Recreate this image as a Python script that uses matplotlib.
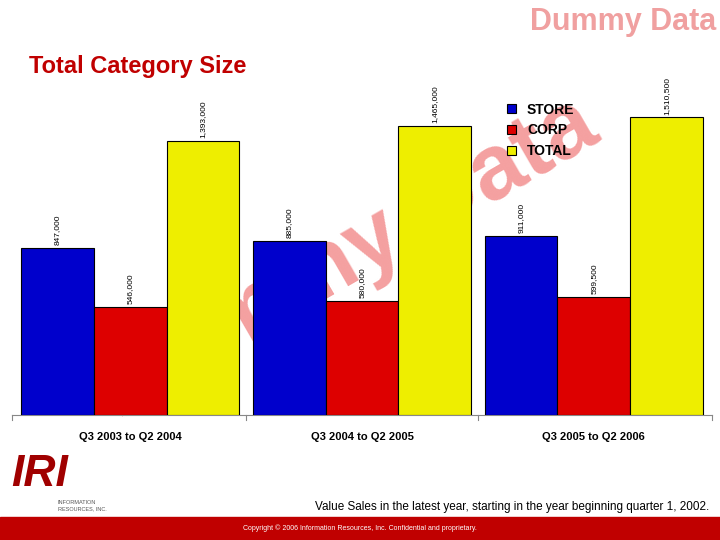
import numpy as np
import matplotlib.pyplot as plt

plt.rcParams['font.family'] = ['Liberation Sans', 'DejaVu Sans']

periods = ["Q3 2003 to Q2 2004", "Q3 2004 to Q2 2005", "Q3 2005 to Q2 2006"]
store = [847000, 885000, 911000]
corp = [546000, 580000, 599500]
total = [1393000, 1465000, 1510500]
series = ["STORE", "CORP", "TOTAL"]
colors = ["#0000cc", "#dd0000", "#eeee00"]

fig = plt.figure(figsize=(7.2, 5.4), dpi=100)
ax = fig.add_axes([12 / 720, 125 / 540, 700 / 720, 325 / 540])
ax.patch.set_visible(False)

x = np.arange(len(periods))
w = 0.314
for i, (vals, c) in enumerate(zip([store, corp, total], colors)):
    pos = x + (i - 1) * w
    ax.bar(pos, vals, w, color=c, edgecolor="black", linewidth=0.8, label=series[i], zorder=3)
    for p, v in zip(pos, vals):
        ax.text(p, v + 15000, f"{v:,}", rotation=90, ha="center", va="bottom", fontsize=6, zorder=4)

# watermark behind the bars
ax.text(0.48, 0.48, "Dummy Data", transform=ax.transAxes, fontsize=66, fontweight="bold",
        color="#f4a0a0", rotation=30, ha="center", va="center", zorder=1)

ax.set_xlim(-0.51, 2.51)
ax.set_ylim(0, 1650000)
ax.set_yticks([])
ax.set_xticks(x)
ax.set_xticklabels(periods, fontsize=8, fontweight="bold")
ax.tick_params(axis="x", length=0, pad=12)
for s in ["top", "right", "left"]:
    ax.spines[s].set_visible(False)
ax.spines["bottom"].set_color("#888888")
for b in [-0.51, 0.5, 1.5, 2.51]:
    ax.plot([b, b], [0, -25000], color="#888888", lw=0.8, clip_on=False)

leg = ax.legend(loc="upper left", bbox_to_anchor=(0.69, 1.0), frameon=False,
                handlelength=0.6, handleheight=0.6, labelspacing=0.5,
                prop={"weight": "bold", "size": 10})
leg.set_zorder(5)

fig.text(0.04, 0.865, "Total Category Size", fontsize=17, fontweight="bold", color="#c00000")
fig.text(0.995, 0.96, "Dummy Data", fontsize=22, fontweight="bold", color="#f0a0a0", ha="right", va="center")

fig.text(0.985, 0.055, "Value Sales in the latest year, starting in the year beginning quarter 1, 2002.",
         fontsize=8.5, ha="right")
fig.patches.append(plt.Rectangle((0, 0), 1, 23 / 540, transform=fig.transFigure,
                                 color="#c00000", zorder=0))
fig.text(0.5, 0.022, "Copyright \u00a9 2006 Information Resources, Inc. Confidential and proprietary.",
         fontsize=5, color="white", ha="center", va="center")
fig.text(0.015, 0.1, "IRI", fontsize=32, fontweight="bold", fontstyle="italic", color="#a00000")
fig.text(0.08, 0.055, "INFORMATION\nRESOURCES, INC.", fontsize=4, color="#555555")

fig.savefig("out.png")
